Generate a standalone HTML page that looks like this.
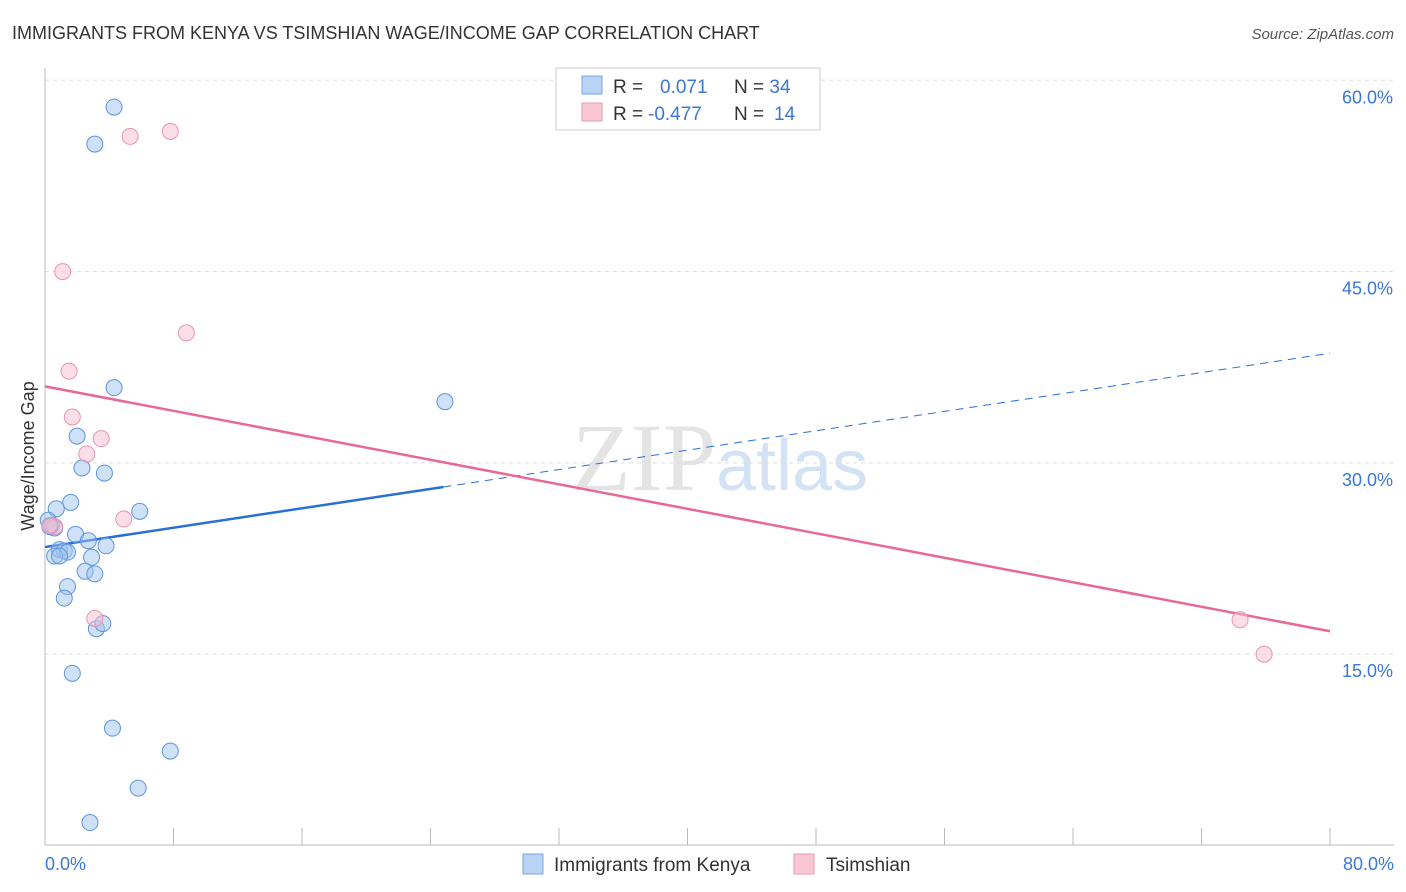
<!DOCTYPE html>
<html><head><meta charset="utf-8"><style>
body{margin:0;background:#fff;font-family:"Liberation Sans",sans-serif;}
svg{display:block}
</style></head><body>
<svg id="chart" width="1406" height="892" viewBox="0 0 1406 892" xmlns="http://www.w3.org/2000/svg">
<text x="12" y="39" font-size="18" fill="#333">IMMIGRANTS FROM KENYA VS TSIMSHIAN WAGE/INCOME GAP CORRELATION CHART</text>
<text x="1394" y="39" font-size="15" fill="#555" text-anchor="end" font-style="italic">Source: ZipAtlas.com</text>
<text x="720" y="490" font-size="96" fill="#e4e4e4" text-anchor="middle" font-family="Liberation Serif,serif">ZIP<tspan fill="#d3e2f4" font-family="Liberation Sans,sans-serif" font-size="72">atlas</tspan></text>
<g id="grid"></g>
<g id="axes"></g>
<g id="lines"></g>
<g id="points"></g>
<text transform="translate(34,456) rotate(-90)" font-size="18" fill="#333" text-anchor="middle">Wage/Income Gap</text>
<g>
<rect x="556" y="68" width="264" height="62" fill="#fff" stroke="#ccc"/>
<rect x="582" y="76" width="20" height="18" fill="#b8d3f3" stroke="#7aa7e0"/>
<rect x="582" y="103" width="20" height="18" fill="#f9c6d4" stroke="#eb9ab3"/>
<text x="613" y="93" font-size="19" fill="#333">R = <tspan fill="#3a78d6" x="660">0.071</tspan><tspan x="734">N = </tspan><tspan fill="#3a78d6">34</tspan></text>
<text x="613" y="120" font-size="19" fill="#333">R = <tspan fill="#3a78d6" x="648">-0.477</tspan><tspan x="734">N = </tspan><tspan fill="#3a78d6" x="774">14</tspan></text>
</g>
<g>
<rect x="523" y="854" width="20" height="20" fill="#b8d3f3" stroke="#7aa7e0"/>
<text x="554" y="871" font-size="19" fill="#333">Immigrants from Kenya</text>
<rect x="794" y="854" width="20" height="20" fill="#f9c6d4" stroke="#eb9ab3"/>
<text x="826" y="871" font-size="19" fill="#333">Tsimshian</text>
</g>
</svg>
<script>
const NS="http://www.w3.org/2000/svg";
const kenyaX=[4.3,3.1,4.3,24.9,2.0,2.3,3.7,1.6,0.7,5.9,0.2,0.4,0.6,1.9,2.7,3.8,0.9,1.2,1.4,0.6,0.9,2.9,2.5,3.1,1.4,1.2,3.2,3.6,1.7,4.2,7.8,5.8,2.8,0.3];
const kenyaY=[57.9,55.0,35.9,34.8,32.1,29.6,29.2,26.9,26.4,26.2,25.5,25.1,24.9,24.4,23.9,23.5,23.2,23.1,23.0,22.7,22.7,22.6,21.5,21.3,20.3,19.4,17.0,17.4,13.5,9.2,7.4,4.5,1.8,25.0];
const tsimX=[5.3,7.8,1.1,8.8,1.5,1.7,3.5,2.6,4.9,0.6,3.1,74.4,75.9,0.3];
const tsimY=[55.6,56.0,45.0,40.2,37.2,33.6,31.9,30.7,25.6,25.0,17.8,17.7,15.0,25.1];
const kenyaTrend=[23.4,38.6], kenyaSolidEnd=24.8;
const tsimTrend=[36.0,16.8];
const yTicks=[15,30,45,60];
const xTickLabels=["0.0%","80.0%"];
const xs=v=>45+v/80*1285, ys=v=>845.5-v/15*191.3;
function mk(tag,attrs,parent){const e=document.createElementNS(NS,tag);for(const k in attrs)e.setAttribute(k,attrs[k]);document.getElementById(parent).appendChild(e);return e;}
yTicks.forEach(t=>{
 const l=mk("line",{x1:45,x2:1394,y1:ys(t),y2:ys(t),stroke:"#ddd","stroke-dasharray":"4,4"},"grid");
 
 
 const tx=mk("text",{x:1393,y:ys(t)+23,"font-size":18,fill:"#3a78d6","text-anchor":"end"},"grid");
 tx.textContent=t.toFixed(1)+"%";
 
 
});
const ax=mk("line",{x1:45,x2:45,y1:68,y2:845,stroke:"#bbb"},"axes");


const bx=mk("line",{x1:45,x2:1394,y1:845,y2:845,stroke:"#bbb"},"axes");


for(let i=0;i<=10;i++){const t=mk("line",{x1:xs(i*8),x2:xs(i*8),y1:828,y2:845,stroke:"#bbb"},"axes");
 
 }
[[0,"start",45],[80,"end",1394]].forEach((d,i)=>{const t=mk("text",{x:d[2],y:870,"font-size":18,fill:"#3a78d6","text-anchor":d[1]},"axes");t.textContent=xTickLabels[i];
 
 });
const kAt=x=>kenyaTrend[0]+(kenyaTrend[1]-kenyaTrend[0])*x/80;
let l1=mk("line",{x1:xs(0),y1:ys(kAt(0)),x2:xs(kenyaSolidEnd),y2:ys(kAt(kenyaSolidEnd)),stroke:"#2a6fd6","stroke-width":2.5},"lines");


let l2=mk("line",{x1:xs(kenyaSolidEnd),y1:ys(kAt(kenyaSolidEnd)),x2:xs(80),y2:ys(kAt(80)),stroke:"#2a6fd6","stroke-width":1,"stroke-dasharray":"8,6"},"lines");


let l3=mk("line",{x1:xs(0),y1:ys(tsimTrend[0]),x2:xs(80),y2:ys(tsimTrend[1]),stroke:"#e8689a","stroke-width":2.5},"lines");


kenyaX.forEach((x,i)=>{const c=mk("circle",{cx:xs(x),cy:ys(kenyaY[i]),r:8,fill:"rgba(160,196,240,0.5)",stroke:"#5d95dd","stroke-width":1},"points");
 
 });
tsimX.forEach((x,i)=>{const c=mk("circle",{cx:xs(x),cy:ys(tsimY[i]),r:8,fill:"rgba(248,190,208,0.5)",stroke:"#e995b0","stroke-width":1},"points");
 
 });
</script>
</body></html>
